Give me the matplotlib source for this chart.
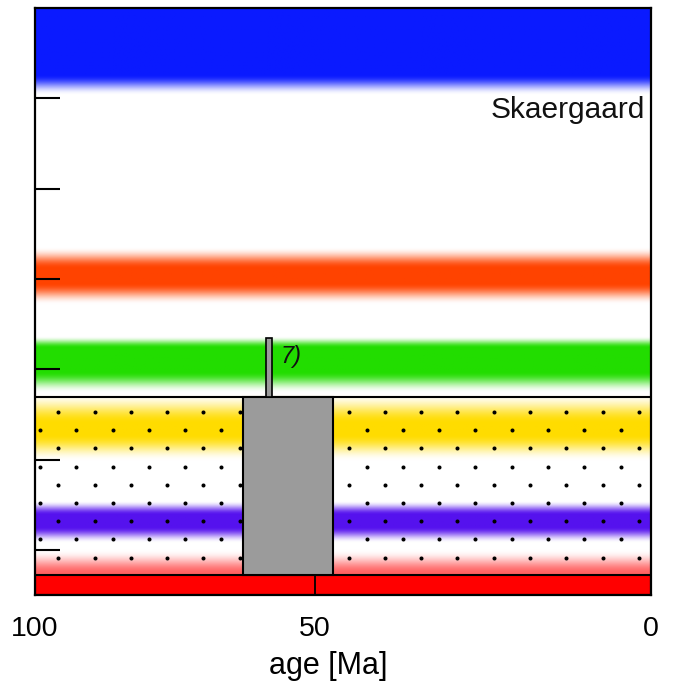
"""
Skaergaard age panel: coloured stratigraphic bands vs. age, with age box.
"""

import numpy as np
import matplotlib
matplotlib.use('Agg')
import matplotlib.pyplot as plt

plt.rcParams['font.family'] = ['Liberation Sans', 'DejaVu Sans']

# ---------------------------------------------------------------------------
# Data
# ---------------------------------------------------------------------------

X_TICKS = [100, 50, 0]
X_TICK_LABELS = ['100', '50', '0']
Y_TICKS = [1, 2, 3, 4, 5, 6]

# colour bands: centre, core half-width, fade above, fade below (level units)
BAND_NAMES = ['blue', 'orange', 'green', 'yellow', 'violet', 'pink']
BAND_CENTER = [6.70, 4.03, 3.10, 2.335, 1.314, 0.724]
BAND_HALF = [0.44, 0.08, 0.13, 0.06, 0.065, 0.0]
BAND_FADE_UP = [0.0, 0.24, 0.13, 0.34, 0.16, 0.27]
BAND_FADE_DN = [0.23, 0.24, 0.24, 0.30, 0.18, 0.0]
BAND_COLORS = ['#0a1aff', '#ff4300', '#22dd00', '#ffdc00', '#5512ee', '#ff6262']

DOTTED_TOP = 2.69           # top of the dotted unit
RED_TOP = 0.724             # top of the solid red base unit

BOX_OLD, BOX_YOUNG = 62.8, 47.3     # age box [Ma]
BAR_OLD, BAR_YOUNG = 58.7, 57.7     # thin age bar 7) [Ma]
BAR_TOP = 3.35

# dot texture rows (level units) and columns (axes fraction)
DOT_ROWS = [2.526, 2.325, 2.123, 1.922, 1.720, 1.519, 1.317, 1.116, 0.914]
DOT_X0 = [0.0378, 0.0081]
DOT_DX = 0.0589
N_DOT_COLS = 17

K50 = 0.5455   # axis position of 50 Ma (the original axis is not linear)


# ---------------------------------------------------------------------------
# Helpers
# ---------------------------------------------------------------------------

def _fwd(x):
    x = np.asarray(x, dtype=float)
    return np.where(x <= 50, x * K50 / 50.0, K50 + (x - 50.0) * (1 - K50) / 50.0)


def _inv(y):
    y = np.asarray(y, dtype=float)
    return np.where(y <= K50, y * 50.0 / K50, 50.0 + (y - K50) * 50.0 / (1 - K50))


def _band_alpha(y, c, h, fu, fd):
    d = y - c
    a = np.zeros_like(y)
    a[np.abs(d) <= h] = 1.0
    up = (d > h) & (d < h + fu)
    a[up] = 0.5 * (1 + np.cos(np.pi * (d[up] - h) / fu))
    dn = (d < -h) & (d > -h - fd)
    a[dn] = 0.5 * (1 + np.cos(np.pi * (-d[dn] - h) / fd))
    return a


# ---------------------------------------------------------------------------
# Plot
# ---------------------------------------------------------------------------

fig = plt.figure(figsize=(6.76, 6.87), dpi=100)
ax = fig.add_axes([35 / 676, 92 / 687, 616 / 676, 587 / 687])
ax.set_xscale('function', functions=(_fwd, _inv))
ax.set_axisbelow(False)

# band gradient image
y_lo, y_hi = 0.5, 7.0
yy = np.linspace(y_lo, y_hi, 1400)
rgb = np.ones((len(yy), 3))
for c, h, fu, fd, col in zip(BAND_CENTER, BAND_HALF, BAND_FADE_UP, BAND_FADE_DN, BAND_COLORS):
    a = _band_alpha(yy, c, h, fu, fd)[:, None]
    rgb = rgb * (1 - a) + np.array(matplotlib.colors.to_rgb(col))[None, :] * a
img = np.repeat(rgb[:, None, :], 4, axis=1)
ax.imshow(img, extent=[0, 1, y_lo, y_hi], origin='lower', aspect='auto',
          interpolation='bilinear', transform=ax.get_yaxis_transform(), zorder=0)

# dot texture
for i, yr in enumerate(DOT_ROWS):
    xs = DOT_X0[i % 2] + DOT_DX * np.arange(N_DOT_COLS)
    ax.plot(xs, np.full_like(xs, yr), 'o', color='black', markersize=2.9,
            markeredgewidth=0, transform=ax.get_yaxis_transform(), zorder=2)

# solid red base unit
ax.axhspan(y_lo, RED_TOP, facecolor='#ff0000', edgecolor='black', lw=1.5, zorder=2)
ax.axhline(DOTTED_TOP, color='black', lw=1.5, zorder=3)

# age box and thin bar
ax.bar(BOX_YOUNG, DOTTED_TOP - RED_TOP, width=BOX_OLD - BOX_YOUNG, bottom=RED_TOP,
       align='edge', color='#9b9b9b', edgecolor='black', lw=1.5, zorder=4)
ax.bar(BAR_YOUNG, BAR_TOP - DOTTED_TOP, width=BAR_OLD - BAR_YOUNG, bottom=DOTTED_TOP,
       align='edge', color='#9b9b9b', edgecolor='black', lw=1.2, zorder=4)

ax.text(0.398, 3.14, '7)', transform=ax.get_yaxis_transform(), fontsize=17,
        style='italic', ha='left', va='center', color='#111111', zorder=5)
ax.text(0.990, 5.78, 'Skaergaard', transform=ax.get_yaxis_transform(), fontsize=21.5,
        ha='right', va='baseline', color='#111111', zorder=5)

ax.set_xlim(100, 0)
ax.set_ylim(y_lo, y_hi)
ax.set_xticks(X_TICKS)
ax.set_xticklabels(X_TICK_LABELS)
ax.set_yticks(Y_TICKS)
ax.set_yticklabels([])
ax.tick_params(axis='x', direction='in', length=14.4, width=1.3, pad=15,
               labelsize=20.5, top=False)
ax.tick_params(axis='y', direction='in', length=18, width=1.5, right=False)
ax.minorticks_off()
for s in ax.spines.values():
    s.set_linewidth(1.6)
    s.set_zorder(6)
ax.set_xlabel('age [Ma]', fontsize=22)
ax.xaxis.set_label_coords(0.476, -0.095)

fig.savefig('out.png', dpi=100)
